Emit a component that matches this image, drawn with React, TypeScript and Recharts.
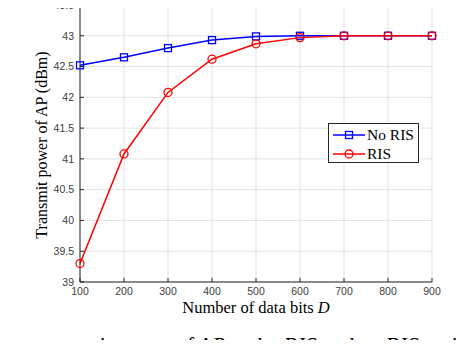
import React from "react";
import {
  LineChart,
  Line,
  XAxis,
  YAxis,
  CartesianGrid,
} from "recharts";

const dataBits = [100, 200, 300, 400, 500, 600, 700, 800, 900];
const noRisPower = [42.52, 42.65, 42.8, 42.93, 42.99, 43.0, 43.0, 43.0, 43.0];
const risPower = [39.3, 41.08, 42.08, 42.62, 42.87, 42.97, 43.0, 43.0, 43.0];
const xTicks = [100, 200, 300, 400, 500, 600, 700, 800, 900];
const yTicks = [39, 39.5, 40, 40.5, 41, 41.5, 42, 42.5, 43, 43.5];

const seriesNames = ["No RIS", "RIS"];
const seriesColors = ["#0000ff", "#ff0000"];

const rows = dataBits.map((d, i) => ({
  bits: d,
  noRis: noRisPower[i],
  ris: risPower[i],
}));

const axisColor = "#262626";
const serif = "Liberation Serif, Times New Roman, serif";
const tickStyle = { fill: "#404040", fontSize: 10.5, fontFamily: "Liberation Sans, Arial, sans-serif" };

function SquareDot(props: any) {
  const { cx, cy } = props;
  if (cx == null || cy == null) return null;
  return (
    <rect
      x={cx - 3.5}
      y={cy - 3.5}
      width={7}
      height={7}
      fill="none"
      stroke={seriesColors[0]}
      strokeWidth={1.3}
    />
  );
}

function LegendBox() {
  return (
    <div
      style={{
        position: "absolute",
        left: 328,
        top: 123,
        width: 91,
        height: 40,
        boxSizing: "border-box",
        border: "1px solid #262626",
        background: "#fff",
        padding: "1px 3px",
        fontFamily: serif,
        fontSize: 15.5,
        color: "#000",
        lineHeight: "19px",
      }}
    >
      {seriesNames.map((name, i) => (
        <div key={name} style={{ display: "flex", alignItems: "center" }}>
          <svg width={33} height={14} style={{ marginRight: 2 }}>
            <line x1={1} y1={7} x2={33} y2={7} stroke={seriesColors[i]} strokeWidth={1.5} />
            {i === 0 ? (
              <rect x={13.5} y={3.5} width={7} height={7} fill="none" stroke={seriesColors[i]} strokeWidth={1.3} />
            ) : (
              <circle cx={17} cy={7} r={4} fill="none" stroke={seriesColors[i]} strokeWidth={1.3} />
            )}
          </svg>
          <span>{name}</span>
        </div>
      ))}
    </div>
  );
}

export default function App() {
  return (
    <div
      style={{
        position: "relative",
        width: 468,
        height: 348,
        margin: -8,
        overflow: "hidden",
        background: "#fff",
      }}
    >
      <LineChart
        width={468}
        height={348}
        data={rows}
        margin={{ top: 5, right: 36, left: 0, bottom: 46 }}
      >
        <CartesianGrid stroke="#e3e3e3" strokeWidth={1} />
        <XAxis
          dataKey="bits"
          type="number"
          domain={[100, 900]}
          ticks={xTicks}
          height={20}
          stroke={axisColor}
          tick={tickStyle}
          tickSize={-4}
          tickMargin={10}
          interval={0}
        />
        <XAxis
          xAxisId="top"
          dataKey="bits"
          type="number"
          orientation="top"
          domain={[100, 900]}
          ticks={xTicks}
          height={0}
          stroke={axisColor}
          tick={false}
          tickSize={-4}
        />
        <YAxis
          type="number"
          domain={[39, 43.5]}
          ticks={yTicks}
          width={80}
          stroke={axisColor}
          tick={tickStyle}
          tickSize={-4}
          tickMargin={10}
          interval={0}
        />
        <YAxis
          yAxisId="right"
          orientation="right"
          type="number"
          domain={[39, 43.5]}
          ticks={yTicks}
          width={0}
          stroke={axisColor}
          tick={false}
          tickSize={-4}
        />
        <Line
          dataKey="noRis"
          name="No RIS"
          stroke={seriesColors[0]}
          strokeWidth={1.5}
          dot={<SquareDot />}
          isAnimationActive={false}
        />
        <Line
          dataKey="ris"
          name="RIS"
          stroke={seriesColors[1]}
          strokeWidth={1.5}
          dot={{ r: 4, fill: "none", stroke: seriesColors[1], strokeWidth: 1.3 }}
          isAnimationActive={false}
        />
      </LineChart>
      <LegendBox />
      <div
        style={{
          position: "absolute",
          left: 42,
          top: 145,
          transform: "translate(-50%, -50%) rotate(-90deg)",
          whiteSpace: "nowrap",
          fontFamily: serif,
          fontSize: 16,
          color: "#000",
        }}
      >
        Transmit power of AP (dBm)
      </div>
      <div
        style={{
          position: "absolute",
          left: 256,
          top: 308,
          transform: "translate(-50%, -50%)",
          whiteSpace: "nowrap",
          fontFamily: serif,
          fontSize: 16.5,
          color: "#000",
        }}
      >
        Number of data bits <i>D</i>
      </div>
      <div
        style={{
          position: "absolute",
          left: 6,
          top: 333,
          whiteSpace: "nowrap",
          fontFamily: serif,
          fontSize: 21.5,
          color: "#000",
        }}
      >
        age transmit power of AP under RIS and no RIS assistance
      </div>
    </div>
  );
}
